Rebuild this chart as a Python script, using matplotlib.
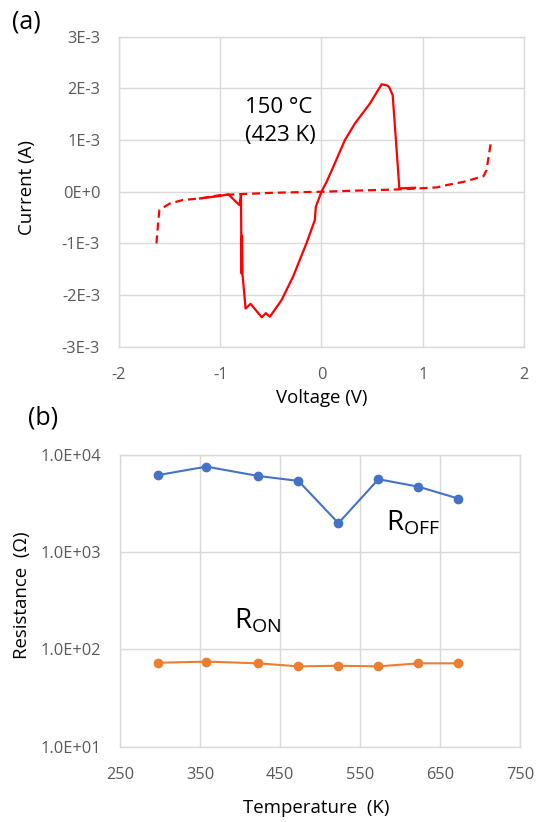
import matplotlib
matplotlib.use("Agg")
import matplotlib.pyplot as plt
from matplotlib.ticker import FixedLocator, FixedFormatter, NullLocator
import numpy as np

plt.rcParams["font.family"] = ["Open Sans", "DejaVu Sans"]
plt.rcParams["mathtext.default"] = "regular"
plt.rcParams["axes.unicode_minus"] = False

# (a) I-V sweep at 150 C, current in mA
solid_v = [-1.20, -1.0, -0.92, -0.81, -0.795, -0.79, -0.785, -0.78, -0.75, -0.70,
           -0.59, -0.55, -0.51, -0.395, -0.28, -0.149, -0.066, -0.056, 0.0,
           0.05, 0.116, 0.231, 0.33, 0.479, 0.594, 0.644, 0.667, 0.703, 0.769, 0.924]
solid_i = [-0.13, -0.08, -0.05, -0.26, -0.05, -1.58, -0.85, -1.60, -2.26, -2.17,
           -2.43, -2.35, -2.42, -2.10, -1.64, -1.0, -0.55, -0.29, 0.0,
           0.19, 0.48, 1.0, 1.32, 1.71, 2.08, 2.06, 2.03, 1.87, 0.065, 0.077]
dashed_v = [-1.63, -1.61, -1.60, -1.50, -1.37, -1.20, -1.0, -0.78, -0.48, 0.0,
            0.40, 0.77, 1.14, 1.24, 1.40, 1.60, 1.63, 1.67]
dashed_i = [-1.0, -0.52, -0.35, -0.23, -0.16, -0.13, -0.065, -0.045, -0.02, 0.0,
            0.025, 0.045, 0.084, 0.13, 0.19, 0.30, 0.42, 0.92]

iv_xticks = [-2, -1, 0, 1, 2]
iv_yticks = [-3e-3, -2e-3, -1e-3, 0.0, 1e-3, 2e-3, 3e-3]
iv_ylabels = ["-3E-3", "-2E-3", "-1E-3", "0E+0", "1E-3", "2E-3", "3E-3"]

# (b) resistance vs temperature
temperature = [298, 358, 423, 473, 523, 573, 623, 673]
r_off = [6220, 7590, 6080, 5410, 1990, 5630, 4720, 3560]
r_on = [73, 75, 72, 67, 68, 67, 72, 72]
r_xticks = [250, 350, 450, 550, 650, 750]
r_yticks = [1e1, 1e2, 1e3, 1e4]
r_ylabels = ["1.0E+01", "1.0E+02", "1.0E+03", "1.0E+04"]

GRID = "#D9D9D9"
TICK = "#595959"
RED = "#FF0000"
BLUE = "#4472C4"
ORANGE = "#ED7D31"


def style_axes(ax):
    for spine in ax.spines.values():
        spine.set_color(GRID)
        spine.set_linewidth(1.0)
    ax.grid(True, color=GRID, linewidth=1.0)
    ax.set_axisbelow(True)
    ax.tick_params(length=0, labelsize=11.8, colors=TICK)
    ax.tick_params(axis="y", pad=13.5)
    ax.tick_params(axis="x", pad=14.5)


fig = plt.figure(figsize=(5.36, 8.22), dpi=100)

ax1 = fig.add_axes([0.222, 0.5782, 0.7556, 0.3771])
style_axes(ax1)
ax1.plot(dashed_v, np.array(dashed_i) * 1e-3, color=RED, linewidth=1.6,
         dashes=(3.6, 2.2))
ax1.plot(solid_v, np.array(solid_i) * 1e-3, color=RED, linewidth=1.6)
ax1.set_xlim(-2, 2)
ax1.set_ylim(-3e-3, 3e-3)
ax1.xaxis.set_major_locator(FixedLocator(iv_xticks))
ax1.xaxis.set_major_formatter(FixedFormatter([str(t) for t in iv_xticks]))
ax1.yaxis.set_major_locator(FixedLocator(iv_yticks))
ax1.yaxis.set_major_formatter(FixedFormatter(iv_ylabels))
ax1.set_xlabel("Voltage (V)", fontsize=13.4)
ax1.set_ylabel("Current (A)", fontsize=13.4)
ax1.xaxis.set_label_coords(0.5, -0.138)
ax1.yaxis.set_label_coords(-0.205, 0.515)
ax1.text(-0.76, 1.83e-3, "150 °C\n(423 K)", fontsize=16, ha="left", va="top",
         linespacing=1.45)

ax2 = fig.add_axes([0.2239, 0.0916, 0.7463, 0.3549])
style_axes(ax2)
ax2.set_yscale("log")
ax2.plot(temperature, r_off, color=BLUE, linewidth=1.5, marker="o", markersize=6)
ax2.plot(temperature, r_on, color=ORANGE, linewidth=1.5, marker="o", markersize=6)
ax2.set_xlim(250, 750)
ax2.set_ylim(1e1, 1e4)
ax2.xaxis.set_major_locator(FixedLocator(r_xticks))
ax2.xaxis.set_major_formatter(FixedFormatter([str(t) for t in r_xticks]))
ax2.yaxis.set_major_locator(FixedLocator(r_yticks))
ax2.yaxis.set_major_formatter(FixedFormatter(r_ylabels))
ax2.yaxis.set_minor_locator(NullLocator())
ax2.set_xlabel("Temperature  (K)", fontsize=13.4)
ax2.set_ylabel("Resistance  (Ω)", fontsize=13.4)
ax2.xaxis.set_label_coords(0.49, -0.18)
ax2.yaxis.set_label_coords(-0.2225, 0.52)
ax2.text(582, 2.0e3, r"R$_{OFF}$", fontsize=20, ha="left", va="center")
ax2.text(393, 1.95e2, r"R$_{ON}$", fontsize=20, ha="left", va="center")

fig.text(0.022, 0.973, "(a)", fontsize=18, ha="left", va="center")
fig.text(0.052, 0.492, "(b)", fontsize=18, ha="left", va="center")

fig.savefig("out.png", dpi=100)
